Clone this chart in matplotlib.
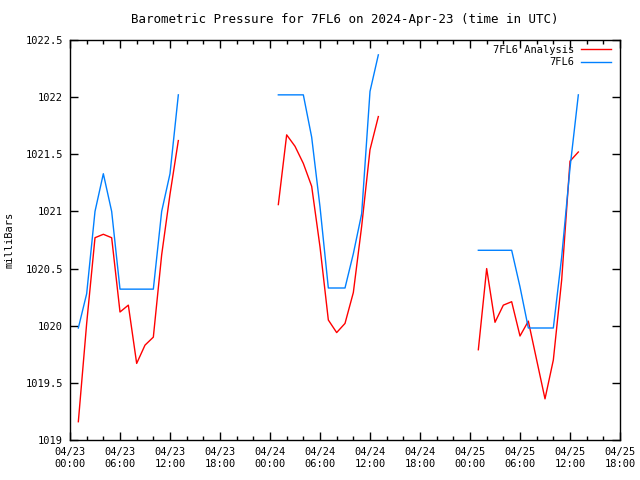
# %%
import datetime as dt
import numpy as np
import matplotlib
matplotlib.use('Agg')
import matplotlib.pyplot as plt
import matplotlib.dates as mdates

# %%
# hourly readings, hours counted from 2024-04-23 00:00 UTC
hours_day1 = [1, 2, 3, 4, 5, 6, 7, 8, 9, 10, 11, 12, 13]
hours_day2 = [25, 26, 27, 28, 29, 30, 31, 32, 33, 34, 35, 36, 37]
hours_day3 = [49, 50, 51, 52, 53, 54, 55, 56, 57, 58, 59, 60, 61]

analysis_day1 = [1019.16, 1020.02, 1020.77, 1020.80, 1020.77, 1020.12, 1020.18,
                 1019.67, 1019.83, 1019.90, 1020.62, 1021.15, 1021.62]
analysis_day2 = [1021.06, 1021.67, 1021.57, 1021.42, 1021.22, 1020.69, 1020.05,
                 1019.94, 1020.02, 1020.29, 1020.87, 1021.54, 1021.83]
analysis_day3 = [1019.79, 1020.50, 1020.03, 1020.18, 1020.21, 1019.91, 1020.04,
                 1019.70, 1019.36, 1019.70, 1020.40, 1021.44, 1021.52]

station_day1 = [1019.98, 1020.28, 1021.00, 1021.33, 1021.00, 1020.32, 1020.32,
                1020.32, 1020.32, 1020.32, 1021.00, 1021.33, 1022.02]
station_day2 = [1022.02, 1022.02, 1022.02, 1022.02, 1021.65, 1021.04, 1020.33,
                1020.33, 1020.33, 1020.63, 1020.98, 1022.05, 1022.37]
station_day3 = [1020.66, 1020.66, 1020.66, 1020.66, 1020.66, 1020.34, 1019.98,
                1019.98, 1019.98, 1019.98, 1020.60, 1021.38, 1022.02]

start = dt.datetime(2024, 4, 23)

def to_times(hours):
    return [start + dt.timedelta(hours=h) for h in hours]

# %%
plt.rcParams['font.family'] = ['DejaVu Sans Mono']
plt.rcParams['font.size'] = 7.5

fig = plt.figure(figsize=(6.4, 4.8), dpi=100)
ax = fig.add_axes([70 / 640, 40 / 480, 550 / 640, 400 / 480])

red = '#ff0000'
blue = '#0080ff'
for hrs, vals in [(hours_day1, analysis_day1), (hours_day2, analysis_day2), (hours_day3, analysis_day3)]:
    ax.plot(to_times(hrs), vals, color=red, lw=1)
for hrs, vals in [(hours_day1, station_day1), (hours_day2, station_day2), (hours_day3, station_day3)]:
    ax.plot(to_times(hrs), vals, color=blue, lw=1)

# legend entries drawn from the first segment of each series
ax.lines[0].set_label('7FL6 Analysis')
ax.lines[3].set_label('7FL6')

ax.set_xlim(start, start + dt.timedelta(hours=66))
ax.set_ylim(1019, 1022.5)
ax.set_yticks(np.arange(1019, 1022.51, 0.5))
ax.yaxis.set_major_formatter(plt.FuncFormatter(lambda v, p: ('%g' % v)))

ax.xaxis.set_major_locator(mdates.HourLocator(byhour=[0, 6, 12, 18]))
ax.xaxis.set_minor_locator(mdates.HourLocator(interval=2))
ax.xaxis.set_major_formatter(mdates.DateFormatter('%m/%d\n%H:%M'))

ax.tick_params(which='major', direction='in', length=6, width=1, top=True, right=True, pad=5)
ax.tick_params(which='minor', direction='in', length=3, width=1, top=True, right=True)
for s in ax.spines.values():
    s.set_linewidth(1)

ax.set_ylabel('milliBars', labelpad=8)
ax.set_title('Barometric Pressure for 7FL6 on 2024-Apr-23 (time in UTC)', pad=12)

ax.legend(loc='upper right', frameon=False, markerfirst=False, handlelength=2.9,
          borderaxespad=0.1, borderpad=0.2, labelspacing=0.2, handletextpad=0.7,
          bbox_to_anchor=(0.99, 0.995))

plt.savefig('out.png', dpi=100)
